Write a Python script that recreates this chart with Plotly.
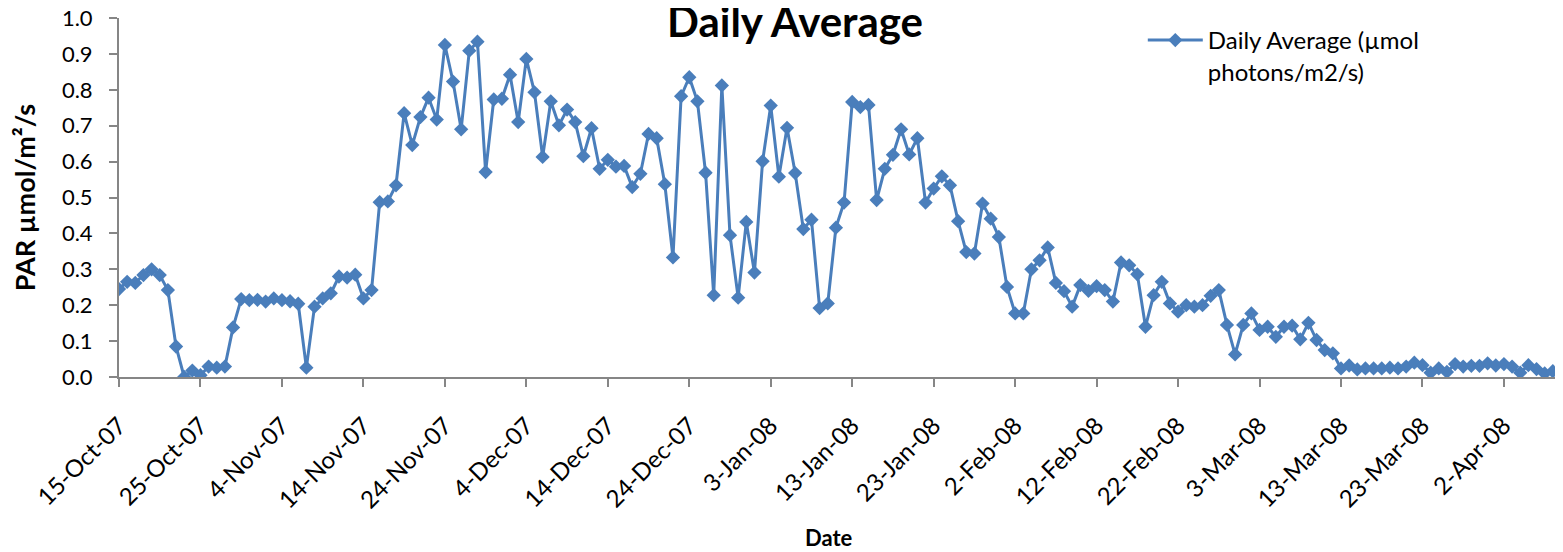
import pandas as pd
import plotly.graph_objects as go

start_date = "2007-10-15"
par_values = [
    0.245, 0.265, 0.262, 0.284, 0.300, 0.284, 0.242, 0.085, 0.000, 0.018,
    0.005, 0.029, 0.026, 0.029, 0.138, 0.217, 0.214, 0.215, 0.210, 0.219,
    0.214, 0.211, 0.204, 0.026, 0.196, 0.219, 0.233, 0.280, 0.277, 0.285,
    0.219, 0.242, 0.487, 0.489, 0.534, 0.735, 0.646, 0.724, 0.778, 0.717,
    0.925, 0.823, 0.690, 0.909, 0.934, 0.571, 0.773, 0.775, 0.842, 0.710,
    0.886, 0.793, 0.613, 0.768, 0.701, 0.745, 0.710, 0.615, 0.693, 0.580,
    0.605, 0.586, 0.588, 0.529, 0.566, 0.677, 0.665, 0.537, 0.333, 0.782,
    0.835, 0.768, 0.569, 0.228, 0.812, 0.395, 0.221, 0.432, 0.291, 0.601,
    0.756, 0.558, 0.694, 0.568, 0.412, 0.438, 0.192, 0.205, 0.416, 0.486,
    0.766, 0.752, 0.758, 0.493, 0.580, 0.619, 0.690, 0.620, 0.665, 0.486,
    0.525, 0.559, 0.534, 0.434, 0.348, 0.344, 0.483, 0.441, 0.390, 0.251,
    0.177, 0.177, 0.300, 0.325, 0.361, 0.262, 0.239, 0.196, 0.256, 0.240,
    0.253, 0.242, 0.210, 0.319, 0.311, 0.286, 0.140, 0.228, 0.265, 0.205,
    0.182, 0.200, 0.196, 0.200, 0.226, 0.242, 0.145, 0.063, 0.145, 0.177,
    0.131, 0.140, 0.112, 0.140, 0.143, 0.105, 0.151, 0.103, 0.075, 0.066,
    0.024, 0.032, 0.021, 0.024, 0.024, 0.024, 0.026, 0.024, 0.029, 0.040,
    0.033, 0.012, 0.024, 0.014, 0.036, 0.029, 0.031, 0.031, 0.038, 0.032,
    0.036, 0.029, 0.012, 0.033, 0.022, 0.010, 0.016,
]
dates = pd.date_range(start_date, periods=len(par_values), freq="D")

series_name = "Daily Average (µmol<br>photons/m2/s)"
chart_title = "Daily Average"
x_title = "Date"
y_title = "PAR µmol/m²/s"

FONT = "Lato, 'Open Sans', sans-serif"
BLUE = "#4A7EBB"
AXIS = "#868686"

# page body has an 8px margin; figure sized to fit the 1563x552 window
W, H = 1555, 544

fig = go.Figure()
fig.add_trace(go.Scatter(
    x=dates, y=par_values, mode="lines+markers", name=series_name,
    line=dict(color=BLUE, width=3),
    marker=dict(symbol="diamond", size=11, color=BLUE),
    showlegend=True,
))

fig.update_layout(
    width=W, height=H,
    margin=dict(l=111, r=0, t=10, b=175, autoexpand=False),
    paper_bgcolor="white", plot_bgcolor="white",
    font=dict(family=FONT, color="black", size=22),
    title=dict(text="<b>" + chart_title + "</b>", x=787 / W, xref="container", xanchor="center",
               y=1.0, yref="container", yanchor="top", pad=dict(t=0, b=0),
               font=dict(size=42, family=FONT, color="black")),
    showlegend=True,
    legend=dict(x=0.709, y=1.0, xanchor="left", yanchor="top",
                font=dict(size=24, family=FONT), valign="top",
                itemwidth=55, bgcolor="rgba(0,0,0,0)"),
    xaxis=dict(
        type="date", automargin=False,
        range=["2007-10-15", "2008-04-09 06:00"],
        tick0="2007-10-15", dtick=10 * 24 * 3600 * 1000,
        tickformat="%-d-%b-%y", tickangle=-45,
        ticks="outside", ticklen=8, tickcolor=AXIS, tickwidth=2,
        ticklabelstandoff=15,
        showline=True, linecolor=AXIS, linewidth=2,
        showgrid=False, zeroline=False,
        tickfont=dict(size=24, family=FONT),
    ),
    yaxis=dict(
        range=[0, 1.0], dtick=0.1, tick0=0, tickformat=".1f", automargin=False,
        ticks="outside", ticklen=8, tickcolor=AXIS, tickwidth=2,
        ticklabelstandoff=12, ticklabeloverflow="allow",
        showline=True, linecolor=AXIS, linewidth=2,
        showgrid=False, zeroline=False,
        tickfont=dict(size=22, family=FONT),
        title=dict(text="<b>" + y_title + "</b>", font=dict(size=27, family=FONT), standoff=23),
    ),
    annotations=[dict(
        text="<b>" + x_title + "</b>", xref="paper", x=(821 - 111) / 1444, xanchor="center",
        yref="paper", y=-(529 - 369) / 359, yanchor="middle", showarrow=False,
        font=dict(size=22, family=FONT, color="black"),
    )],
)

fig.write_html("out.html")
